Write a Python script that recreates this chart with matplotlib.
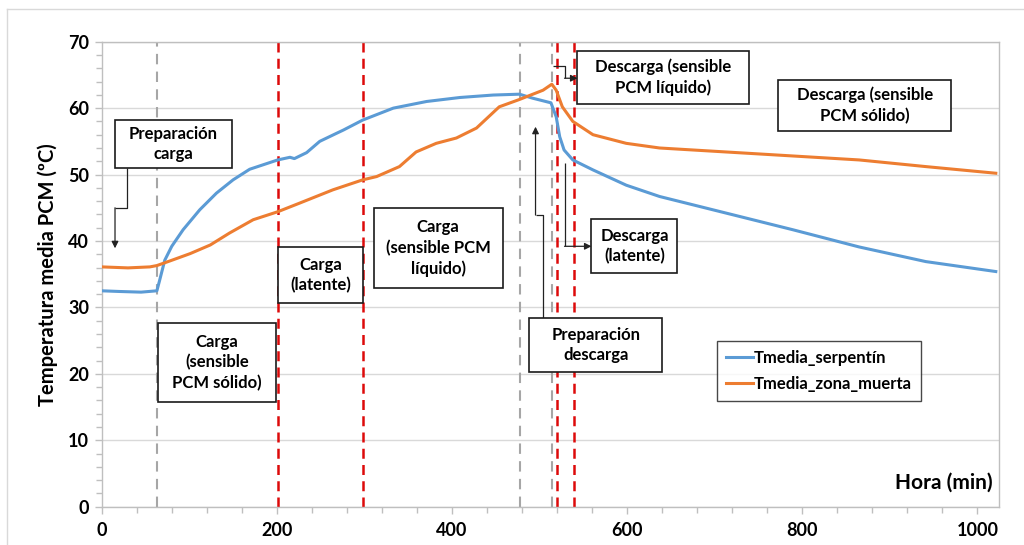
import matplotlib
matplotlib.use("Agg")
import matplotlib.pyplot as plt
from matplotlib.patches import Rectangle
from matplotlib.ticker import MultipleLocator
from matplotlib.lines import Line2D

plt.rcParams['font.family'] = ['Lato', 'DejaVu Sans']
plt.rcParams['font.weight'] = 'bold'

# ---- data ----
t_serp = [0, 20, 45, 63, 66, 72, 80, 93, 112, 131, 150, 169, 201, 215, 220, 234, 249, 268,
          276, 298, 333, 371, 409, 447, 477, 492, 513, 519, 523, 528, 538, 561, 599, 637,
          713, 789, 865, 941, 1021]
T_serp = [32.5, 32.4, 32.3, 32.5, 34.0, 37.1, 39.2, 41.7, 44.7, 47.2, 49.2, 50.8, 52.2, 52.6,
          52.4, 53.3, 55.0, 56.2, 56.7, 58.2, 60.0, 61.0, 61.6, 61.97, 62.1, 61.5, 60.8, 58.7,
          55.7, 53.7, 52.2, 50.7, 48.4, 46.7, 44.2, 41.7, 39.1, 36.9, 35.4]

t_zona = [0, 30, 55, 63, 78, 101, 124, 146, 173, 201, 226, 264, 298, 314, 340, 359, 382,
          405, 428, 454, 477, 504, 514, 519, 526, 538, 561, 599, 637, 713, 789, 865, 941, 1021]
T_zona = [36.1, 35.95, 36.1, 36.3, 37.0, 38.1, 39.4, 41.2, 43.2, 44.4, 45.7, 47.7, 49.2, 49.7,
          51.2, 53.4, 54.7, 55.5, 57.0, 60.2, 61.3, 62.7, 63.6, 62.7, 60.2, 58.0, 56.0, 54.7,
          54.0, 53.4, 52.8, 52.2, 51.2, 50.2]

grey_lines = [63, 478, 514]
red_lines = [201, 298, 520, 539]

series_names = ['Tmedia_serpentín', 'Tmedia_zona_muerta']
x_label = 'Hora (min)'
y_label = 'Temperatura media PCM (ºC)'

# annotation boxes: (x0, x1, y0, y1, text)
boxes = [
    (15.2, 149.0, 51.0, 58.2, 'Preparación\ncarga'),
    (64.2, 198.8, 15.8, 27.7, 'Carga\n(sensible\nPCM sólido)'),
    (201.2, 298.2, 30.6, 39.1, 'Carga\n(latente)'),
    (310.6, 457.8, 32.9, 45.0, 'Carga\n(sensible PCM\nlíquido)'),
    (488.5, 640.2, 20.3, 28.4, 'Preparación\ndescarga'),
    (543.3, 739.5, 60.6, 68.6, 'Descarga (sensible\nPCM líquido)'),
    (559.3, 657.4, 35.2, 43.3, 'Descarga\n(latente)'),
    (772.6, 969.9, 56.6, 64.2, 'Descarga (sensible\nPCM sólido)'),
]
# elbow connectors (last point = arrow tip)
connectors = [
    [(28.9, 51.0), (28.9, 45.0), (15.2, 45.0), (15.2, 38.9)],
    [(503.7, 28.4), (503.7, 43.9), (495.4, 43.9), (495.4, 57.2)],
    [(514.8, 66.3), (528.5, 66.3), (528.5, 64.5), (543.3, 64.5)],
    [(528.5, 51.7), (528.5, 39.2), (559.3, 39.2)],
]

blue = '#5B9BD5'
orange = '#ED7D31'

fig = plt.figure(figsize=(10.24, 5.45), dpi=100)
ax = fig.add_axes([101.7/1024, 1-506.7/545, 897.6/1024, 465/545])

# outer chart-area border
fig.add_artist(Line2D([7/1024, 7/1024], [0, 1-9/545], transform=fig.transFigure, color='#D9D9D9', lw=1))
fig.add_artist(Line2D([7/1024, 1], [1-9/545, 1-9/545], transform=fig.transFigure, color='#D9D9D9', lw=1))

ax.set_xlim(0, 1025)
ax.set_ylim(0, 70)
ax.yaxis.set_major_locator(MultipleLocator(10))
ax.yaxis.set_minor_locator(MultipleLocator(2))
ax.xaxis.set_major_locator(MultipleLocator(200))
ax.xaxis.set_minor_locator(MultipleLocator(40))
ax.grid(axis='y', color='#D9D9D9', lw=1)
ax.set_axisbelow(True)
for s in ax.spines.values():
    s.set_color('#BFBFBF')
    s.set_linewidth(1)
ax.tick_params(which='both', direction='out', color='#BFBFBF', width=1)
ax.tick_params(which='major', length=5, labelsize=13, pad=4)
ax.tick_params(which='minor', length=4)
ax.tick_params(axis='x', which='major', pad=6)
for lab in ax.get_xticklabels() + ax.get_yticklabels():
    lab.set_fontweight('bold')

for gx in grey_lines:
    ax.axvline(gx, color='#A6A6A6', lw=1.5, ls=(0, (5, 3.5)), zorder=1)
for rx in red_lines:
    ax.axvline(rx, color='#DD0A0A', lw=1.8, ls=(0, (4, 2.5)), zorder=1)

ax.plot(t_serp, T_serp, color=blue, lw=2.2, label=series_names[0], zorder=3)
ax.plot(t_zona, T_zona, color=orange, lw=2.2, label=series_names[1], zorder=3)

for x0, x1, y0, y1, txt in boxes:
    ax.add_patch(Rectangle((x0, y0), x1-x0, y1-y0, facecolor='white', edgecolor='#1a1a1a',
                           lw=1.2, zorder=5, clip_on=False))
    ax.text((x0+x1)/2, (y0+y1)/2, txt, ha='center', va='center', fontsize=12,
            fontweight='bold', linespacing=1.33, zorder=6)

for pts in connectors:
    xs = [p[0] for p in pts[:-1]]
    ys = [p[1] for p in pts[:-1]]
    ax.plot(xs, ys, color='#222222', lw=0.9, zorder=4, solid_capstyle='butt')
    ax.annotate('', xy=pts[-1], xytext=pts[-2],
                arrowprops=dict(arrowstyle='-|>', color='#222222', lw=0.9,
                                mutation_scale=10, shrinkA=0, shrinkB=0), zorder=4)

leg = ax.legend(loc='upper left', bbox_to_anchor=(0.6855, 0.356), frameon=True, fancybox=False,
                edgecolor='#1a1a1a', fontsize=12, handlelength=1.6, handletextpad=0.05,
                borderpad=0.55, labelspacing=0.6, borderaxespad=0)
leg.get_frame().set_linewidth(1.0)
for t in leg.get_texts():
    t.set_fontweight('bold')

ax.text(0.993, 0.051, x_label, transform=ax.transAxes, ha='right', va='center',
        fontsize=15, fontweight='bold')
ax.set_ylabel(y_label, fontsize=14.5, fontweight='bold', labelpad=7)

fig.savefig('out.png', dpi=100)
